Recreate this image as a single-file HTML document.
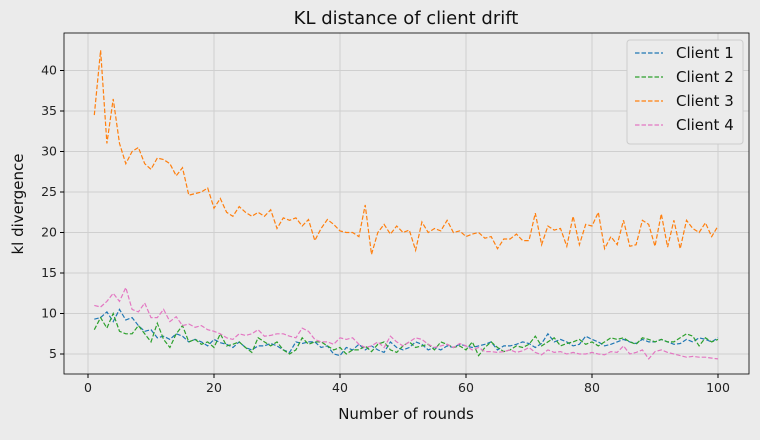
<!DOCTYPE html>
<html><head><meta charset="utf-8"><style>
body{margin:0;background:#ebebeb;font-family:"Liberation Sans","DejaVu Sans",sans-serif;}
svg text{font-family:"DejaVu Sans","Liberation Sans",sans-serif;}
</style></head><body>
<svg id="chart" width="760" height="435" xmlns="http://www.w3.org/2000/svg">
<rect width="760" height="435" fill="#ebebeb"/>
<g id="grid"></g><g id="series"></g><g id="axes"></g>
</svg>
<script>
const xTicks=[0,20,40,60,80,100];
const yTicks=[5,10,15,20,25,30,35,40];
const seriesNames=["Client 1","Client 2","Client 3","Client 4"];
const seriesColors=["#1f77b4","#2ca02c","#ff7f0e","#e377c2"];
const client1=[9.3,9.5,10.2,9,10.5,9.2,9.5,8.5,7.8,8,7,7.2,6.8,7.5,7.2,6.5,6.8,6.5,6,6.8,6.4,6.2,5.8,6.5,5.8,5.5,6,6,6.3,6,5.5,5.2,6.5,6.3,6.5,6.5,5.8,6,5,4.8,5.8,5.5,6.2,5.5,6,5.5,5.2,6.5,5.8,5.5,5.8,6.5,6.2,5.5,5.8,5.5,6,5.8,6.2,6,5.8,6,6.2,6.5,5.5,6,6,6.2,6.5,6.3,5.8,6.3,7.5,6.5,6.8,6.5,6,6.2,7.2,6.8,6.5,6,6.2,6.5,6.8,6.5,6.3,6.8,6.5,6.5,6.8,6.5,6.2,6.3,6.8,6.5,7,6.8,6.5,7];
const client2=[8,9.5,8.2,10,7.8,7.5,7.5,8.5,7.5,6.5,8.8,6.8,5.8,7.5,8.5,6.5,6.8,6.2,6.5,5.8,7.5,6,6.2,6.5,5.8,5.2,7,6.5,6,6.5,5.5,5,5.5,7,6.2,6.5,6.5,6,5.5,5.8,5,5.5,5.5,6,5.3,6.2,6.5,5.5,5.2,6,6.5,5.8,6,6.2,5.5,6.5,6.2,5.8,6,5.5,6.5,4.8,5.8,6.5,5.8,5.3,5.5,6,5.8,6.2,7.2,6,6.5,7,6,6.3,6.5,6.8,6.2,6.5,6,6.5,7,6.8,7,6.5,6.2,7,6.8,6.5,6.8,6.5,6.5,7,7.5,7.2,6,7,6.5,6.8];
const client3=[34.5,42.5,31,36.5,31,28.5,30,30.5,28.5,27.8,29.2,29,28.5,27,28,24.6,24.8,25,25.5,23,24.2,22.5,22,23.2,22.5,22,22.5,22,22.8,20.5,21.8,21.5,21.8,20.8,21.6,19,20.5,21.6,21,20.2,20,20,19.5,23.4,17.3,20,21,19.8,20.8,20,20.3,17.8,21.3,20,20.5,20.2,21.5,20,20.2,19.5,19.8,20,19.3,19.5,18,19.2,19.2,19.8,19,19,22.4,18.5,20.8,20.3,20.5,18.3,22,18.5,21,20.8,22.5,18,19.5,18.5,21.5,18.3,18.5,21.5,21,18.3,22.3,18.2,21.5,18,21.5,20.5,20,21.2,19.5,20.8];
const client4=[11,10.8,11.5,12.5,11.5,13.2,10.5,10.2,11.3,9.5,9.5,10.5,9,9.6,8.5,8.7,8.3,8.5,8,7.8,7.5,7,6.8,7.5,7.3,7.5,8,7.2,7.3,7.5,7.5,7.2,7,8.2,7.8,6.8,6.5,6.5,6.2,7,6.8,7,6.2,5.8,6,6.5,5.8,7.2,6.5,6,6.5,7,6.8,6.2,5.8,6,6.2,5.8,6.3,6,5.5,5.8,5.3,5.3,5.2,5.3,5.5,5.2,5.4,5.8,5.2,4.9,5.5,5.2,5.3,5,5.2,5,5,5.2,5,4.9,5.3,5.2,6,5,5.2,5.5,4.4,5.3,5.5,5.2,5,4.8,4.6,4.7,4.6,4.6,4.5,4.4];
const allSeries=[client1,client2,client3,client4];
const NS="http://www.w3.org/2000/svg";
const L=64,R=749,T=33,B=374;
function xs(v){return 88+(v)*6.3;}
function ys(v){return 394.5-v*8.1;}
function mk(tag,attrs,parent){const e=document.createElementNS(NS,tag);for(const k in attrs)e.setAttribute(k,attrs[k]);parent.appendChild(e);return e;}
const grid=document.getElementById('grid'),axes=document.getElementById('axes'),ser=document.getElementById('series');
xTicks.forEach(t=>{const x=xs(t);
 const g=mk('line',{x1:x,x2:x,y1:T,y2:B,stroke:'#cfcfcf','stroke-width':1},grid);
 
 
 mk('line',{x1:x,x2:x,y1:B,y2:B+4,stroke:'#000'},axes);
 const tx=mk('text',{x:x,y:B+18,'text-anchor':'middle','font-size':12.5,fill:'#222'},axes);tx.textContent=t;
 
 
});
yTicks.forEach(t=>{const y=ys(t);
 const g=mk('line',{x1:L,x2:R,y1:y,y2:y,stroke:'#cfcfcf','stroke-width':1},grid);
 
 
 mk('line',{x1:L-4,x2:L,y1:y,y2:y,stroke:'#000'},axes);
 const tx=mk('text',{x:L-7,y:y+4,'text-anchor':'end','font-size':12.5,fill:'#222'},axes);tx.textContent=t;
 
 
});
mk('rect',{x:L,y:T,width:R-L,height:B-T,fill:'none',stroke:'#000','stroke-width':0.8},axes);
allSeries.forEach((d,i)=>{
 const pts=d.map((v,j)=>xs(j+1).toFixed(1)+','+ys(v).toFixed(1)).join(' ');
 const p=mk('polyline',{points:pts,fill:'none',stroke:seriesColors[i],'stroke-width':1.2,'stroke-dasharray':'4.5,2'},ser);
 
 
});
let t=mk('text',{x:406,y:24,'text-anchor':'middle','font-size':18,fill:'#111'},axes);t.textContent='KL distance of client drift';


t=mk('text',{x:406,y:419,'text-anchor':'middle','font-size':15,fill:'#111'},axes);t.textContent='Number of rounds';


t=mk('text',{x:23,y:204,'text-anchor':'middle','font-size':15,fill:'#111',transform:'rotate(-90 23 204)'},axes);t.textContent='kl divergence';


const lg=mk('g',{},axes);


mk('rect',{x:627,y:40,width:116,height:104,rx:3,fill:'#ebebeb',stroke:'#cccccc'},lg);
seriesNames.forEach((n,i)=>{const y=53+i*24;
 const ln=mk('line',{x1:635,x2:663,y1:y,y2:y,stroke:seriesColors[i],'stroke-width':1.2,'stroke-dasharray':'4.5,2'},lg);
 
 
 const tx=mk('text',{x:676,y:y+5,'font-size':15,fill:'#111'},lg);tx.textContent=n;
 
 
});
</script>
</body></html>
